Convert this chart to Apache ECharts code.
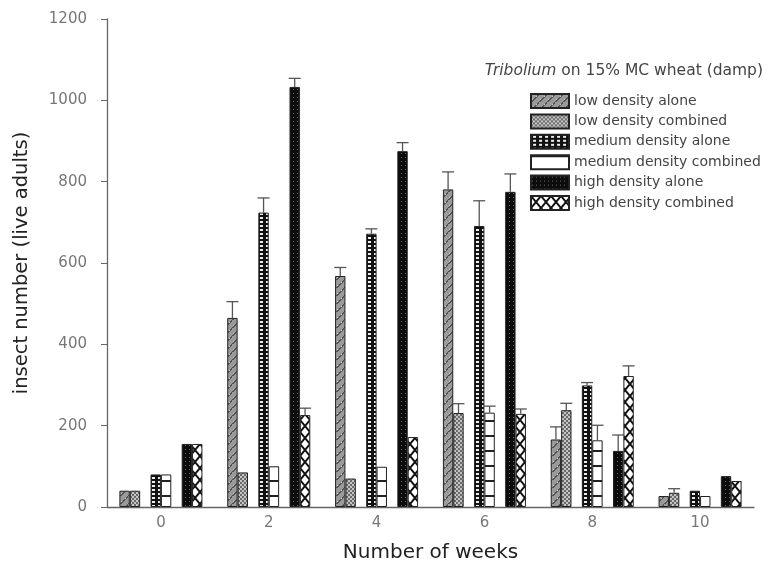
<!DOCTYPE html>
<html>
<head>
<meta charset="utf-8">
<script src="https://cdn.jsdelivr.net/npm/echarts@6/dist/echarts.min.js"></script>
<style>
html,body{margin:0;padding:0;background:#fff;}
#chart{width:768px;height:569px;}
</style>
</head>
<body>
<div id="chart"></div>
<script>
// ---- data ----
var weeks = ['0', '2', '4', '6', '8', '10'];
var seriesNames = ['low density alone', 'low density combined', 'medium density alone',
                   'medium density combined', 'high density alone', 'high density combined'];
var lowAlone     = [40, 465, 568, 781, 166, 27];
var lowAloneErr  = [0, 40, 21, 43, 31, 0];
var lowComb      = [40, 85, 70, 231, 238, 35];
var lowCombErr   = [0, 0, 0, 23, 17, 10];
var medAlone     = [80, 724, 672, 691, 299, 40];
var medAloneErr  = [0, 36, 12, 62, 7, 0];
var medComb      = [80, 100, 99, 232, 164, 27];
var medCombErr   = [0, 0, 0, 16, 37, 0];
var highAlone    = [155, 1033, 875, 775, 138, 76];
var highAloneErr = [0, 21, 21, 44, 39, 0];
var highComb     = [155, 226, 172, 229, 322, 64];
var highCombErr  = [0, 17, 0, 12, 25, 0];
var yTicks = [0, 200, 400, 600, 800, 1000, 1200];

var FONT = 'DejaVu Sans';

// ---- patterns ----
function makePattern(w, h, draw) {
  var c = document.createElement('canvas');
  c.width = w; c.height = h;
  var ctx = c.getContext('2d');
  draw(ctx, w, h);
  return { image: c, repeat: 'repeat' };
}
var patLowAlone = makePattern(8, 8, function (ctx, w, h) {
  ctx.fillStyle = '#9a9a9a'; ctx.fillRect(0, 0, w, h);
  ctx.fillStyle = '#555';
  for (var i = 0; i < 8; i++) { ctx.fillRect(i, 7 - i, 2, 1); }
  ctx.fillStyle = '#c8c8c8'; ctx.fillRect(5, 2, 1, 1); ctx.fillRect(1, 5, 1, 1);
});
var patLowComb = makePattern(4, 4, function (ctx, w, h) {
  ctx.fillStyle = '#6a6a6a'; ctx.fillRect(0, 0, w, h);
  ctx.fillStyle = '#c4c4c4'; ctx.fillRect(0, 0, 2, 2); ctx.fillRect(2, 2, 2, 2);
});
var patMedAlone = makePattern(6, 4, function (ctx, w, h) {
  ctx.fillStyle = '#111'; ctx.fillRect(0, 0, w, h);
  ctx.fillStyle = '#eee'; ctx.fillRect(2, 1, 3, 2);
});
var patMedComb = makePattern(5, 15, function (ctx, w, h) {
  ctx.fillStyle = '#fff'; ctx.fillRect(0, 0, w, h);
  ctx.fillStyle = '#222'; ctx.fillRect(0, 0, w, 2);
});
var patHighAlone = makePattern(4, 4, function (ctx, w, h) {
  ctx.fillStyle = '#0c0c0c'; ctx.fillRect(0, 0, w, h);
  ctx.fillStyle = '#666'; ctx.fillRect(1, 1, 1, 1);
});
var patHighComb = makePattern(10, 12, function (ctx, w, h) {
  ctx.fillStyle = '#fff'; ctx.fillRect(0, 0, w, h);
  ctx.strokeStyle = '#111'; ctx.lineWidth = 2;
  ctx.beginPath();
  ctx.moveTo(0, 0); ctx.lineTo(w, h);
  ctx.moveTo(w, 0); ctx.lineTo(0, h);
  ctx.stroke();
});
var patterns = [patLowAlone, patLowComb, patMedAlone, patMedComb, patHighAlone, patHighComb];
var values = [lowAlone, lowComb, medAlone, medComb, highAlone, highComb];
var errors = [lowAloneErr, lowCombErr, medAloneErr, medCombErr, highAloneErr, highCombErr];
// slot positions: pairs separated by an empty slot
var slots = [0, 1, 3, 4, 6, 7];
var nSlots = 8;
var catGap = 0.23;

var series = [];
for (var s = 0; s < nSlots; s++) {
  var idx = slots.indexOf(s);
  if (idx >= 0) {
    series.push({
      name: seriesNames[idx], type: 'bar', barGap: '0%', barCategoryGap: (catGap * 100) + '%',
      data: values[idx],
      itemStyle: { color: patterns[idx], borderColor: '#222', borderWidth: 1 },
      z: 2
    });
  } else {
    series.push({
      name: 'spacer' + s, type: 'bar', barGap: '0%', barCategoryGap: (catGap * 100) + '%',
      data: weeks.map(function () { return null; }),
      itemStyle: { color: 'transparent' }, z: 1
    });
  }
}

// error bars (upper whiskers)
for (var k = 0; k < 6; k++) {
  (function (k) {
    var data = [];
    for (var i = 0; i < weeks.length; i++) {
      if (errors[k][i] > 0) data.push([i, values[k][i], errors[k][i]]);
    }
    series.push({
      type: 'custom', name: seriesNames[k] + ' err', z: 5,
      data: data,
      encode: { x: 0, y: 1 },
      renderItem: function (params, api) {
        var i = api.value(0), v = api.value(1), e = api.value(2);
        var band = api.size([1, 0])[0];
        var bw = band * (1 - catGap) / nSlots;
        var center = api.coord([i, v]);
        var x = center[0] - band * (1 - catGap) / 2 + (slots[k] + 0.5) * bw;
        var yTop = api.coord([i, v + e])[1];
        var yBot = center[1];
        var cap = 6;
        var st = { stroke: '#555', lineWidth: 1.3 };
        return {
          type: 'group',
          children: [
            { type: 'line', shape: { x1: x, y1: yBot, x2: x, y2: yTop }, style: st },
            { type: 'line', shape: { x1: x - cap, y1: yTop, x2: x + cap, y2: yTop }, style: st }
          ]
        };
      }
    });
  })(k);
}

var chart = echarts.init(document.getElementById('chart'));
chart.setOption({
  backgroundColor: '#fff',
  animation: false,
  title: {
    text: '{it|Tribolium} on 15% MC wheat (damp)',
    right: 0, top: 58,
    textStyle: {
      fontSize: 15.5, fontWeight: 'normal', color: '#444', fontFamily: FONT,
      rich: { it: { fontStyle: 'italic', fontSize: 15.5, color: '#444', fontFamily: FONT } }
    }
  },
  legend: {
    data: seriesNames,
    orient: 'vertical',
    left: 525, top: 88,
    itemWidth: 38, itemHeight: 14, itemGap: 4.4,
    icon: 'rect',
    textStyle: { fontSize: 14, color: '#444', fontFamily: FONT }
  },
  grid: { left: 107, right: 14, top: 19, bottom: 62 },
  xAxis: {
    type: 'category', data: weeks,
    name: 'Number of weeks', nameLocation: 'middle', nameGap: 36,
    nameTextStyle: { fontSize: 20, color: '#222', fontFamily: FONT },
    axisLine: { lineStyle: { color: '#666', width: 1.3 } },
    axisTick: { alignWithLabel: true, length: 6, lineStyle: { color: '#666' } },
    axisLabel: { fontSize: 15, color: '#777', margin: 9, fontFamily: FONT }
  },
  yAxis: {
    type: 'value', min: yTicks[0], max: yTicks[yTicks.length - 1], interval: 200,
    name: 'insect number (live adults)', nameLocation: 'middle', nameGap: 75,
    nameTextStyle: { fontSize: 19.5, color: '#222', fontFamily: FONT },
    axisLine: { show: true, lineStyle: { color: '#666', width: 1.3 } },
    axisTick: { show: true, length: 6, lineStyle: { color: '#666' } },
    axisLabel: { fontSize: 15, color: '#777', margin: 20, fontFamily: FONT,
                 formatter: function (v) { return String(v); } },
    splitLine: { show: false }
  },
  series: series
});
</script>
</body>
</html>
